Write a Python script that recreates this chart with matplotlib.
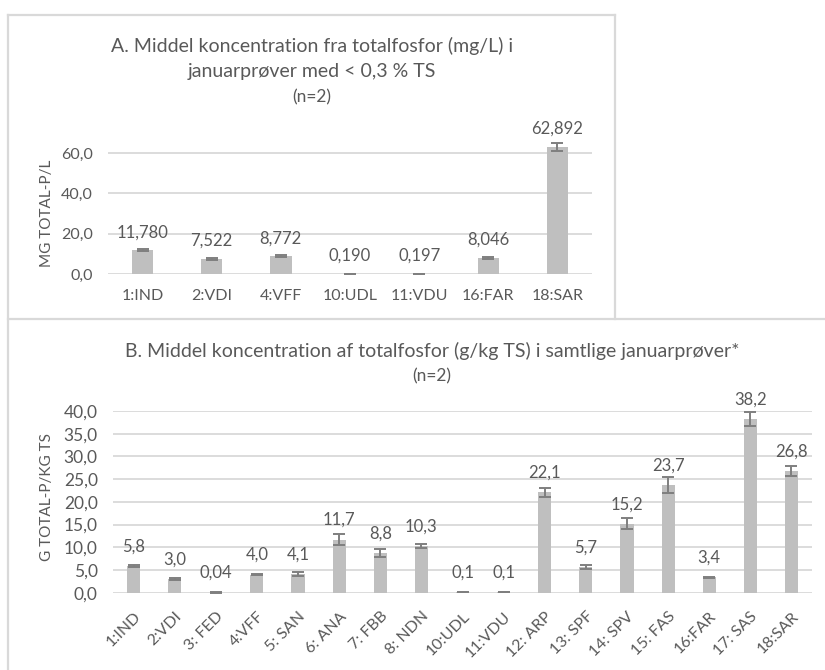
import matplotlib
matplotlib.use("Agg")
import matplotlib.pyplot as plt
from matplotlib.lines import Line2D

plt.rcParams['font.family'] = ['Lato', 'DejaVu Sans']

# ---- data: panel A ----
cats_a = ['1:IND', '2:VDI', '4:VFF', '10:UDL', '11:VDU', '16:FAR', '18:SAR']
vals_a = [11.780, 7.522, 8.772, 0.190, 0.197, 8.046, 62.892]
errs_a = [0.5, 0.4, 0.4, 0.05, 0.05, 0.4, 2.0]
labels_a = ['11,780', '7,522', '8,772', '0,190', '0,197', '8,046', '62,892']
yticks_a = [0, 20, 40, 60]
yticklabels_a = ['0,0', '20,0', '40,0', '60,0']

# ---- data: panel B ----
cats_b = ['1:IND', '2:VDI', '3: FED', '4:VFF', '5: SAN', '6: ANA', '7: FBB', '8: NDN',
          '10:UDL', '11:VDU', '12: ARP', '13: SPF', '14: SPV', '15: FAS', '16:FAR',
          '17: SAS', '18:SAR']
vals_b = [5.8, 3.0, 0.04, 4.0, 4.1, 11.7, 8.8, 10.3, 0.1, 0.1, 22.1, 5.7, 15.2,
          23.7, 3.4, 38.2, 26.8]
errs_b = [0.2, 0.15, 0.02, 0.2, 0.5, 1.2, 0.85, 0.35, 0.03, 0.03, 1.05, 0.5, 1.15,
          1.75, 0.15, 1.6, 1.0]
labels_b = ['5,8', '3,0', '0,04', '4,0', '4,1', '11,7', '8,8', '10,3', '0,1', '0,1',
            '22,1', '5,7', '15,2', '23,7', '3,4', '38,2', '26,8']
yticks_b = [0, 5, 10, 15, 20, 25, 30, 35, 40]
yticklabels_b = ['0,0', '5,0', '10,0', '15,0', '20,0', '25,0', '30,0', '35,0', '40,0']

W, H = 825, 670
TXT = '#595959'
BAR = '#bfbfbf'
ERR = '#7f7f7f'
GRID = '#d9d9d9'

fig = plt.figure(figsize=(W / 100, H / 100), dpi=100)

def fx(px):
    return px / W

def fy(py):
    return 1 - py / H

# panel borders
for (x0, y0, x1, y1) in [(8, 14.5, 615, 14.5), (615, 14.5, 615, 319),
                         (8, 14.5, 8, 670), (8, 319, 825, 319)]:
    fig.add_artist(Line2D([fx(x0), fx(x1)], [fy(y0), fy(y1)],
                          color=GRID, lw=1.6, transform=fig.transFigure))


def style_axes(ax):
    for s in ax.spines.values():
        s.set_visible(False)
    ax.grid(axis='y', color=GRID, lw=1.3)
    ax.set_axisbelow(True)
    ax.tick_params(length=0, colors=TXT)


# ---- panel A ----
axA = fig.add_axes([fx(108), fy(274), fx(592) - fx(108), fy(132.8) - fy(274)])
xa = list(range(len(cats_a)))
axA.bar(xa, vals_a, width=0.31, color=BAR, zorder=2)
axA.errorbar(xa, vals_a, yerr=errs_a, fmt='none', ecolor=ERR, elinewidth=1.4,
             capsize=4, capthick=1.4, zorder=3)
for x, v, t in zip(xa, vals_a, labels_a):
    axA.annotate(t, (x, v), xytext=(0, 13), textcoords='offset points',
                 ha='center', va='center', fontsize=12, color=TXT)
axA.set_xlim(-0.5, len(cats_a) - 0.5)
axA.set_ylim(0, 70)
axA.set_yticks(yticks_a)
axA.set_yticklabels(yticklabels_a)
axA.set_xticks(xa)
axA.set_xticklabels(cats_a)
style_axes(axA)
axA.tick_params(axis='y', pad=11, labelsize=11.5)
axA.tick_params(axis='x', pad=11, labelsize=11.5)
fig.text(fx(47), fy(213), 'MG TOTAL-P/L', rotation=90, ha='center', va='center',
         fontsize=11, color=TXT)
fig.text(fx(312), fy(46), 'A. Middel koncentration fra totalfosfor (mg/L) i',
         ha='center', va='center', fontsize=14, color=TXT)
fig.text(fx(312), fy(72), 'januarprøver med < 0,3 % TS',
         ha='center', va='center', fontsize=14, color=TXT)
fig.text(fx(312), fy(97), '(n=2)', ha='center', va='center', fontsize=12.5, color=TXT)

# ---- panel B ----
axB = fig.add_axes([fx(113), fy(592.7), fx(812) - fx(113), fy(411) - fy(592.7)])
xb = list(range(len(cats_b)))
axB.bar(xb, vals_b, width=0.32, color=BAR, zorder=2)
axB.errorbar(xb, vals_b, yerr=errs_b, fmt='none', ecolor=ERR, elinewidth=1.4,
             capsize=4, capthick=1.4, zorder=3)
for x, v, t in zip(xb, vals_b, labels_b):
    axB.annotate(t, (x, v), xytext=(0, 14), textcoords='offset points',
                 ha='center', va='center', fontsize=12, color=TXT,
                 annotation_clip=False)
axB.set_xlim(-0.5, len(cats_b) - 0.5)
axB.set_ylim(0, 40)
axB.set_yticks(yticks_b)
axB.set_yticklabels(yticklabels_b)
axB.set_xticks(xb)
axB.set_xticklabels(cats_b, rotation=45, ha='right', rotation_mode='anchor')
style_axes(axB)
axB.tick_params(axis='y', pad=11, labelsize=12.5)
axB.tick_params(axis='x', pad=12, labelsize=11.5)
fig.text(fx(47), fy(497), 'G TOTAL-P/KG TS', rotation=90, ha='center', va='center',
         fontsize=11, color=TXT)
fig.text(fx(432), fy(351),
         'B. Middel koncentration af totalfosfor (g/kg TS) i samtlige januarprøver*',
         ha='center', va='center', fontsize=14, color=TXT)
fig.text(fx(432), fy(376), '(n=2)', ha='center', va='center', fontsize=12.5, color=TXT)

fig.savefig('out.png', dpi=100)
